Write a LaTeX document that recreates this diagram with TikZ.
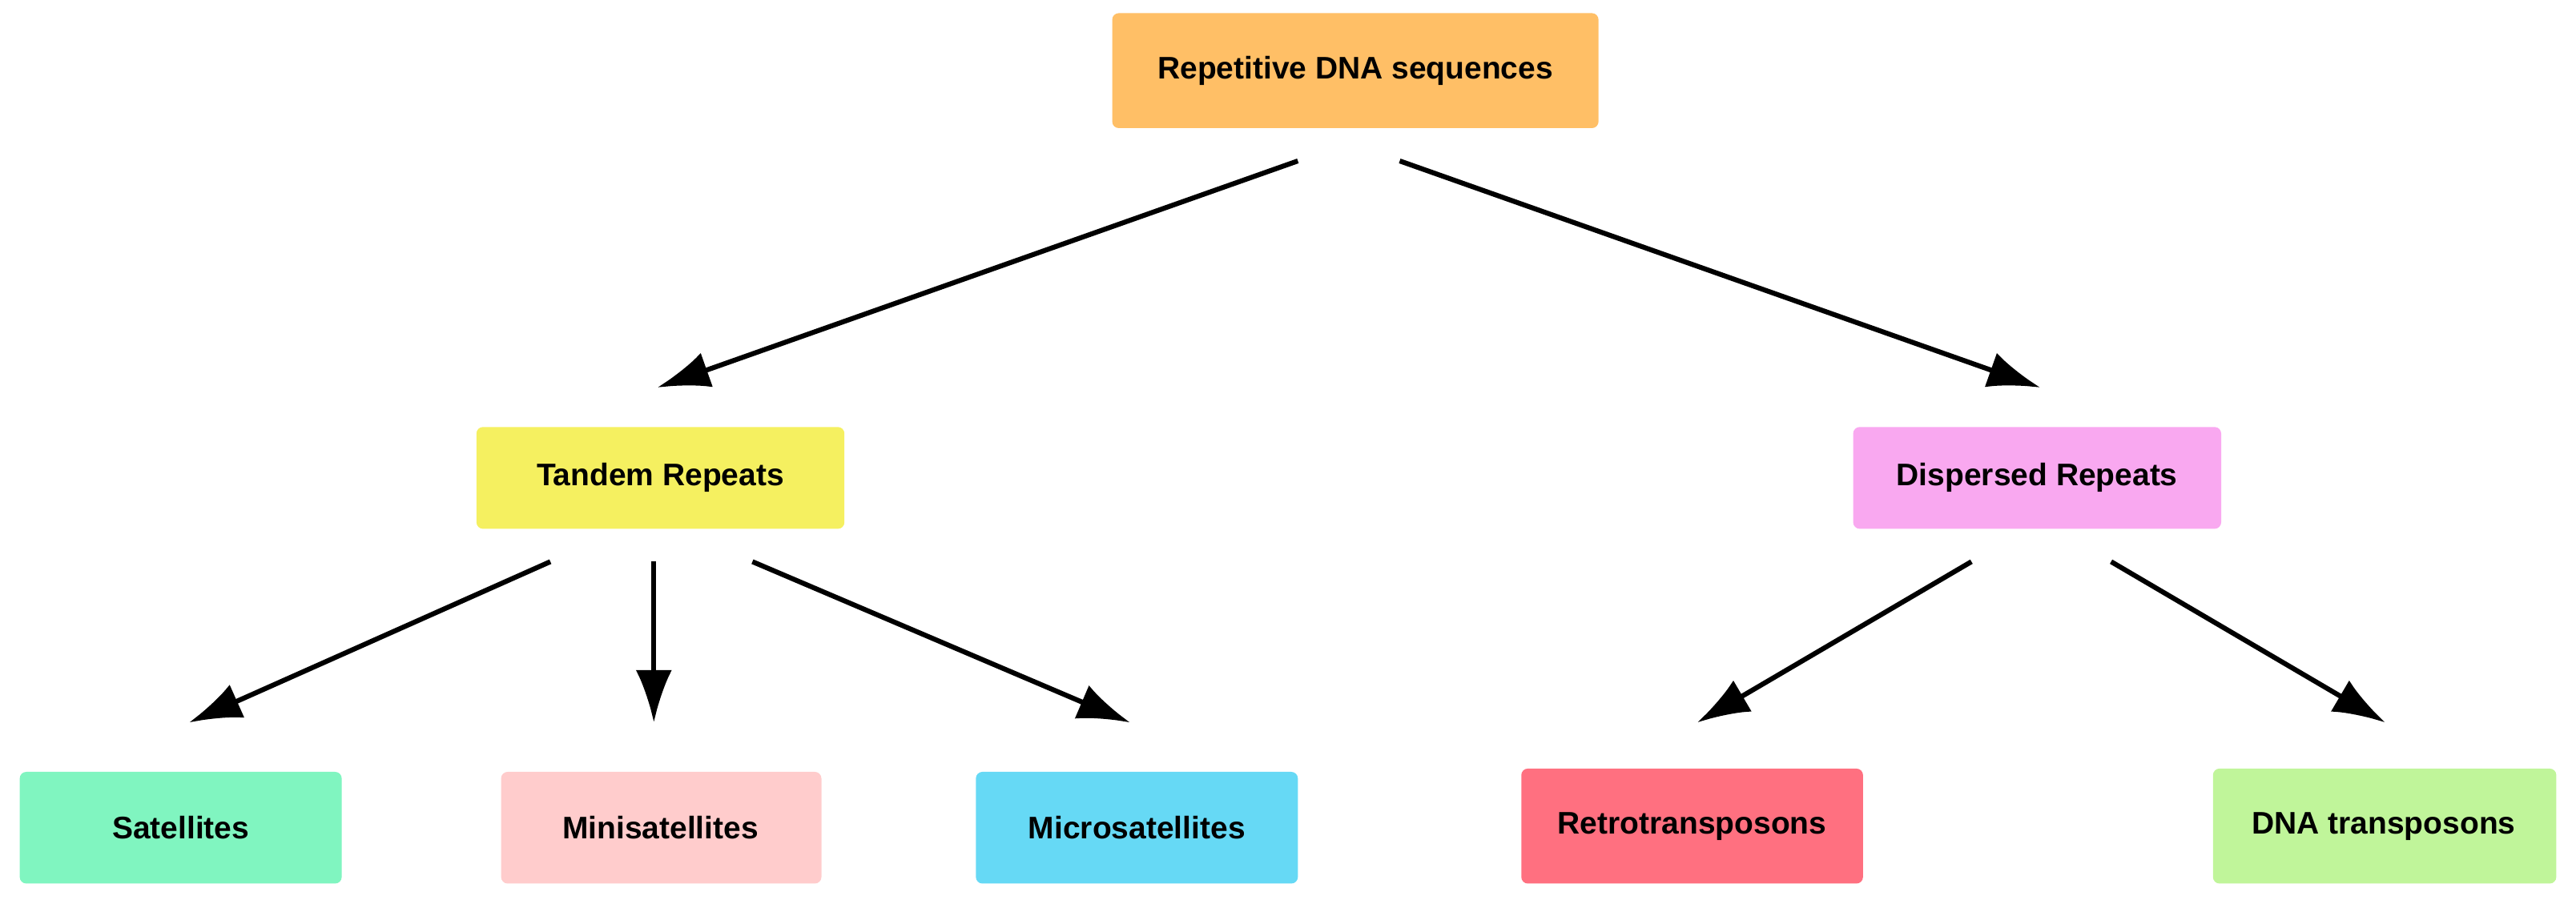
\documentclass[tikz,border=0pt]{standalone}
\usepackage{fontspec}
\setmainfont{Liberation Sans}
\usetikzlibrary{arrows.meta}
\definecolor{cTop}{HTML}{FFBF66}
\definecolor{cTan}{HTML}{F5F060}
\definecolor{cDis}{HTML}{F9A8F0}
\definecolor{cSat}{HTML}{80F5C0}
\definecolor{cMin}{HTML}{FFCCCC}
\definecolor{cMic}{HTML}{66D9F5}
\definecolor{cRet}{HTML}{FF7080}
\definecolor{cDNA}{HTML}{C0F59A}
\begin{document}
\begin{tikzpicture}[x=1pt,y=-1pt,
  box/.style={rounded corners=4pt,draw=none,font=\fontsize{19}{22}\selectfont\bfseries},
  arr/.style={line width=3pt,-{Latex[length=32pt,width=22pt]}}]
\useasboundingbox (0,0) rectangle (1568,548);
\newcommand{\bx}[6]{\fill[#6,rounded corners=4pt] (#2,#4) rectangle (#3,#5);
  \node[box] (#1) at ({(#2+#3)/2},{(#4+#5)/2}) {};}
\fill[cTop,rounded corners=4pt] (677,8) rectangle (973,78);
\node[box] (top) at (825,43) {Repetitive DNA sequences};
\fill[cTan,rounded corners=4pt] (290,260) rectangle (514,322);
\node[box] (tan) at (402,291) {Tandem Repeats};
\fill[cDis,rounded corners=4pt] (1128,260) rectangle (1352,322);
\node[box] (dis) at (1240,291) {Dispersed Repeats};
\fill[cSat,rounded corners=4pt] (12,470) rectangle (208,538);
\node[box] (sat) at (110,504) {Satellites};
\fill[cMin,rounded corners=4pt] (305,470) rectangle (500,538);
\node[box] (min) at (402,504) {Minisatellites};
\fill[cMic,rounded corners=4pt] (594,470) rectangle (790,538);
\node[box] (mic) at (692,504) {Microsatellites};
\fill[cRet,rounded corners=4pt] (926,468) rectangle (1134,538);
\node[box] (ret) at (1030,503) {Retrotransposons};
\fill[cDNA,rounded corners=4pt] (1347,468) rectangle (1556,538);
\node[box] (dna) at (1451,503) {DNA transposons};
\coordinate (a1) at (790,98); \coordinate (b1) at (400,236);
\coordinate (a2) at (852,98); \coordinate (b2) at (1242,236);
\coordinate (a3) at (335,342); \coordinate (b3) at (115,440);
\coordinate (a4) at (398,342); \coordinate (b4) at (398,440);
\coordinate (a5) at (458,342); \coordinate (b5) at (688,440);
\coordinate (a6) at (1200,342); \coordinate (b6) at (1033,440);
\coordinate (a7) at (1285,342); \coordinate (b7) at (1452,440);
\foreach \i in {1,...,7} \draw[arr] (a\i) -- (b\i);
\end{tikzpicture}
\end{document}
